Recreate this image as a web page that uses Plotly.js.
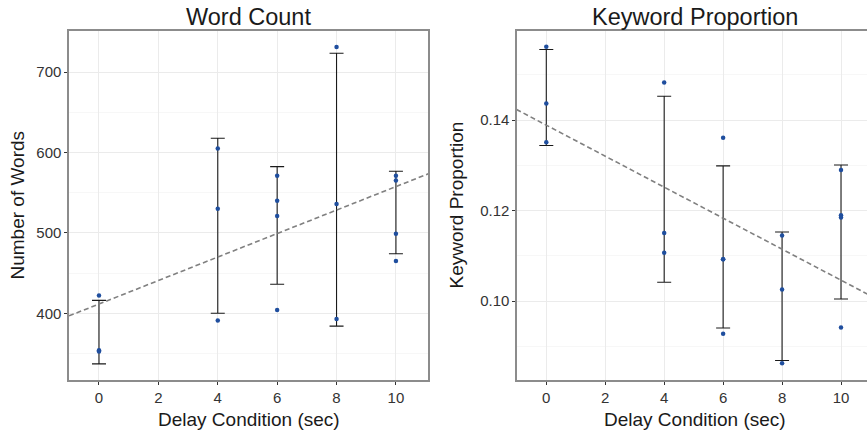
<!DOCTYPE html>
<html><head><meta charset="utf-8">
<script src="https://cdn.plot.ly/plotly-3.0.1.min.js"></script>
<style>html,body{margin:0;padding:0;background:#fff;overflow:hidden}
#wrap{width:867px;height:434px;overflow:hidden;position:relative}</style>
</head><body><div id="wrap"><div id="chart" style="width:880px;height:434px"></div></div>
<script>
// ---- data ----
const delays = [0, 4, 6, 8, 10];
const xTicks = [0, 2, 4, 6, 8, 10];

const wcX = [0,0,0, 4,4,4, 6,6,6,6, 8,8,8, 10,10,10,10];
const wcY = [422,354,352.5, 605,530,391, 571,540,521,404, 731,536,393, 571,565,499,465];
const wcBarLow  = [337, 400, 436, 384, 474];
const wcBarHigh = [416, 617.6, 582.3, 723.4, 576.6];
const wcFitIntercept = 411.5;
const wcFitSlope = 14.6;
const wcYTicks = [400, 500, 600, 700];

const kpX = [0,0,0, 4,4,4, 6,6,6,6, 8,8,8, 10,10,10,10];
const kpY = [0.1562,0.1437,0.1351, 0.1483,0.1151,0.1107, 0.1361,0.1093,0.1093,0.0928, 0.1145,0.1026,0.0863, 0.1290,0.1190,0.1185,0.0942];
const kpBarLow  = [0.1344, 0.1042, 0.0941, 0.0869, 0.1005];
const kpBarHigh = [0.1556, 0.1453, 0.1299, 0.1153, 0.1301];
const kpFitIntercept = 0.1389;
const kpFitSlope = -0.003425;
const kpYTicks = [0.10, 0.12, 0.14];
const kpYTickText = ['0.10', '0.12', '0.14'];

const titles = ['Word Count', 'Keyword Proportion'];
const xTitle = 'Delay Condition (sec)';
const yTitles = ['Number of Words', 'Keyword Proportion'];

// ---- styling ----
const FONT = 'Liberation Sans, Arial, Helvetica, sans-serif';
const W = 880, H = 434;
const pointColor = '#1f4e9e';
const barColor = '#1a1a1a';
const fitColor = '#808080';
const frameColor = '#8c8c8c';

const xRangeL = [-1.01, 11.08];
const xRangeR = [-0.994, 11.08];
const yRangeL = [317, 751];
const yRangeR = [0.0826, 0.1597];
const rightEnd = 546.3 + 11.08 * 29.47;

function barTrace(low, high, xa, ya) {
  const mid = low.map((l, i) => (l + high[i]) / 2);
  return {
    type: 'scatter', mode: 'markers', x: delays, y: mid, xaxis: xa, yaxis: ya,
    marker: {size: 2, opacity: 0}, hoverinfo: 'skip', showlegend: false,
    error_y: {type: 'data', symmetric: false,
      array: high.map((h, i) => h - mid[i]),
      arrayminus: mid.map((m, i) => m - low[i]),
      color: barColor, thickness: 1.1, width: 7}
  };
}
function pointTrace(x, y, xa, ya) {
  return {type: 'scatter', mode: 'markers', x: x, y: y, xaxis: xa, yaxis: ya,
    marker: {size: 4.5, color: pointColor}, showlegend: false, cliponaxis: false};
}
function fitTrace(b0, b1, range, xa, ya) {
  const xs = [range[0] - 0.5, range[1] + 0.5];
  return {type: 'scatter', mode: 'lines', x: xs, y: xs.map(v => b0 + b1 * v),
    xaxis: xa, yaxis: ya, line: {color: fitColor, width: 1.6, dash: '5px,3px'},
    showlegend: false, hoverinfo: 'skip'};
}

const traces = [
  barTrace(wcBarLow, wcBarHigh, 'x', 'y'),
  pointTrace(wcX, wcY, 'x', 'y'),
  fitTrace(wcFitIntercept, wcFitSlope, xRangeL, 'x', 'y'),
  barTrace(kpBarLow, kpBarHigh, 'x2', 'y2'),
  pointTrace(kpX, kpY, 'x2', 'y2'),
  fitTrace(kpFitIntercept, kpFitSlope, xRangeR, 'x2', 'y2')
];

const tickFont = {family: FONT, size: 15, color: '#333333'};
function xAxis(range, domain, anchor) {
  return {domain: domain, range: range, anchor: anchor, tickvals: xTicks,
    ticktext: xTicks.map(String), showgrid: true, gridcolor: '#ebebeb', gridwidth: 1,
    zeroline: false, showline: true, linecolor: frameColor, linewidth: 1.6, mirror: true,
    ticks: 'outside', ticklen: 3, tickwidth: 1, tickcolor: '#333333', tickfont: tickFont};
}
function yAxis(range, anchor, tickvals, ticktext, minorDtick) {
  return {domain: [1 - 380 / H, 1 - 31 / H], range: range, anchor: anchor,
    tickvals: tickvals, ticktext: ticktext, showgrid: true, gridcolor: '#ebebeb', gridwidth: 1,
    minor: {dtick: minorDtick, tick0: 0, showgrid: true, gridcolor: '#f5f5f5', gridwidth: 0.8, ticks: ''},
    zeroline: false, showline: true, linecolor: frameColor, linewidth: 1.6, mirror: true,
    ticks: 'outside', ticklen: 3, tickwidth: 1, tickcolor: '#333333', tickfont: tickFont};
}

const titleFont = {family: FONT, size: 23.5, color: '#1a1a1a'};
const axTitleFont = {family: FONT, size: 19, color: '#1a1a1a'};
const annotations = [
  {text: titles[0], x: 248.5 / W, y: 1 - 17.5 / H, font: titleFont},
  {text: titles[1], x: 694.5 / W, y: 1 - 17.5 / H, font: titleFont},
  {text: xTitle, x: 248.5 / W, y: 1 - 419 / H, font: axTitleFont},
  {text: xTitle, x: 694.5 / W, y: 1 - 419 / H, font: axTitleFont},
  {text: yTitles[0], x: 17 / W, y: 1 - 205.5 / H, textangle: -90, font: axTitleFont},
  {text: yTitles[1], x: 456 / W, y: 1 - 205.5 / H, textangle: -90, font: axTitleFont}
].map(a => Object.assign({xref: 'paper', yref: 'paper', showarrow: false,
  xanchor: 'center', yanchor: 'middle'}, a));

const layout = {
  width: W, height: H, margin: {l: 0, r: 0, t: 0, b: 0},
  paper_bgcolor: '#ffffff', plot_bgcolor: '#ffffff', showlegend: false,
  font: {family: FONT, color: '#1a1a1a'},
  xaxis: xAxis(xRangeL, [69 / W, 428 / W], 'y'),
  yaxis: yAxis(yRangeL, 'x', wcYTicks, wcYTicks.map(String), 50),
  xaxis2: xAxis(xRangeR, [517 / W, rightEnd / W], 'y2'),
  yaxis2: yAxis(yRangeR, 'x2', kpYTicks, kpYTickText, 0.01),
  annotations: annotations
};

Plotly.newPlot('chart', traces, layout, {staticPlot: true, displayModeBar: false});
</script></body></html>
